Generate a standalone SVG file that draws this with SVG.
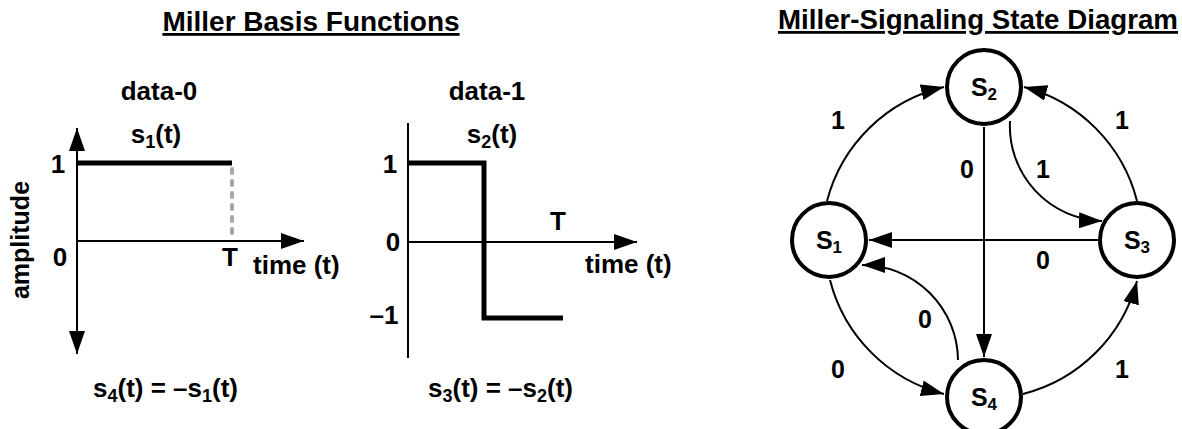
<svg xmlns="http://www.w3.org/2000/svg" width="1182" height="429" viewBox="0 0 1182 429">
<defs>
<style>
text{font-family:"Liberation Sans",Arial,sans-serif;font-weight:bold;fill:#000}
.t{font-size:28px;text-decoration:underline}
.l{font-size:26px}
.n{font-size:25px}
.sub{font-size:17px}
.lsub{font-size:18px}
.ax{stroke:#000;stroke-width:2;fill:none}
.sig{stroke:#000;stroke-width:5;fill:none}
.e{stroke:#000;stroke-width:2;fill:none;marker-end:url(#ah)}
.node{fill:#fff;stroke:#000;stroke-width:4}
</style>
<marker id="ah" markerUnits="userSpaceOnUse" markerWidth="24" markerHeight="16" refX="23" refY="8" orient="auto">
<path d="M0,0 L23,8 L0,16 z" fill="#000"/>
</marker>
</defs>
<rect width="1182" height="429" fill="#fff"/>

<g id="basis">
<text class="t" x="311" y="31" text-anchor="middle">Miller Basis Functions</text>
<g id="plot0">
<text class="l" x="159" y="100" text-anchor="middle">data-0</text>
<text class="l" x="156" y="143" text-anchor="middle">s<tspan class="lsub" dy="5">1</tspan><tspan dy="-5">(t)</tspan></text>
<line class="ax" x1="77" y1="241" x2="77" y2="128" marker-end="url(#ah)"/>
<line class="ax" x1="77" y1="241" x2="77" y2="354" marker-end="url(#ah)"/>
<line class="ax" x1="77" y1="241" x2="304" y2="241" marker-end="url(#ah)"/>
<path class="sig" d="M77,163 H232"/>
<line x1="232" y1="169" x2="232" y2="238" stroke="#a6a6a6" stroke-width="4" stroke-linecap="round" stroke-dasharray="4 8"/>
<text class="l" x="58" y="173" text-anchor="middle">1</text>
<text class="l" x="60" y="266" text-anchor="middle">0</text>
<text class="l" x="230" y="266" text-anchor="middle">T</text>
<text class="l" x="253" y="274">time (t)</text>
<text class="l" style="font-size:25px" transform="translate(29,240) rotate(-90)" text-anchor="middle">amplitude</text>
<text class="l" x="93" y="397">s<tspan class="lsub" dy="5">4</tspan><tspan dy="-5">(t) = –s</tspan><tspan class="lsub" dy="5">1</tspan><tspan dy="-5">(t)</tspan></text>
</g>
<g id="plot1">
<text class="l" x="487" y="100" text-anchor="middle">data-1</text>
<text class="l" x="492" y="143" text-anchor="middle">s<tspan class="lsub" dy="5">2</tspan><tspan dy="-5">(t)</tspan></text>
<line class="ax" x1="408" y1="123" x2="408" y2="358"/>
<line class="ax" x1="408" y1="242" x2="637" y2="242" marker-end="url(#ah)"/>
<path class="sig" d="M408,163 H484 V318 H563"/>
<text class="l" x="390" y="173" text-anchor="middle">1</text>
<text class="l" x="393" y="251" text-anchor="middle">0</text>
<text class="l" x="384" y="324" text-anchor="middle">–1</text>
<text class="l" x="558" y="230" text-anchor="middle">T</text>
<text class="l" x="585" y="273">time (t)</text>
<text class="l" x="428" y="397">s<tspan class="lsub" dy="5">3</tspan><tspan dy="-5">(t) = –s</tspan><tspan class="lsub" dy="5">2</tspan><tspan dy="-5">(t)</tspan></text>
</g>
</g>

<text class="t" style="font-size:27.7px" x="978" y="29" text-anchor="middle">Miller-Signaling State Diagram</text>

<g id="connectors">
<path class="e" d="M827,201 A158,158 0 0 1 944,87"/>
<path class="e" d="M1137,201 A158,158 0 0 0 1024,87"/>
<path class="e" d="M1010,121 A95,95 0 0 0 1102,221"/>
<path class="e" d="M984,127 V357"/>
<path class="e" d="M1098,240 H869"/>
<path class="e" d="M958,360 A96,96 0 0 0 862,265"/>
<path class="e" d="M830,280 A158,158 0 0 0 944,394"/>
<path class="e" d="M1023,394 A158,158 0 0 0 1137,281"/>
<text class="n" x="838" y="129" text-anchor="middle">1</text>
<text class="n" x="1122" y="129" text-anchor="middle">1</text>
<text class="n" x="967" y="178" text-anchor="middle">0</text>
<text class="n" x="1043" y="178" text-anchor="middle">1</text>
<text class="n" x="1043" y="269" text-anchor="middle">0</text>
<text class="n" x="925" y="328" text-anchor="middle">0</text>
<text class="n" x="838" y="378" text-anchor="middle">0</text>
<text class="n" x="1122" y="378" text-anchor="middle">1</text>
</g>

<g id="S1"><circle class="node" cx="829" cy="240" r="37"/><text class="n" x="829" y="249" text-anchor="middle">S<tspan class="sub" dy="4">1</tspan></text></g>
<g id="S2"><circle class="node" cx="984" cy="87" r="37"/><text class="n" x="984" y="96" text-anchor="middle">S<tspan class="sub" dy="4">2</tspan></text></g>
<g id="S3"><circle class="node" cx="1137" cy="240" r="37"/><text class="n" x="1137" y="249" text-anchor="middle">S<tspan class="sub" dy="4">3</tspan></text></g>
<g id="S4"><circle class="node" cx="984" cy="397" r="37"/><text class="n" x="984" y="406" text-anchor="middle">S<tspan class="sub" dy="4">4</tspan></text></g>
</svg>
